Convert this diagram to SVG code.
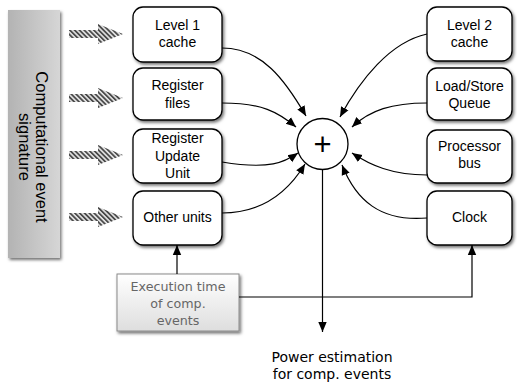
<svg xmlns="http://www.w3.org/2000/svg" width="517" height="384" viewBox="0 0 517 384">
<defs>
<style>
.box{fill:#fff;stroke:#000;stroke-width:1.3;filter:url(#sh)}
.bt{font-family:"Liberation Sans",Arial,sans-serif;font-size:14px;fill:#000;text-anchor:middle}
.con{fill:none;stroke:#000;stroke-width:1.2}
.hat{fill:url(#stripes)}
.et{font-family:"DejaVu Sans",Verdana,sans-serif;font-size:12.7px;text-anchor:middle}
</style>
<filter id="sh" x="-20%" y="-20%" width="150%" height="150%">
<feDropShadow dx="1.5" dy="2" stdDeviation="1.8" flood-color="#000" flood-opacity="0.55"/>
</filter>
<marker id="ah" viewBox="0 0 10 10" refX="10" refY="5" markerWidth="10" markerHeight="10" markerUnits="userSpaceOnUse" orient="auto">
<path d="M0,0.8 L10,5 L0,9.2 z" fill="#000"/>
</marker>
<linearGradient id="bar" x1="0" y1="0" x2="1" y2="0">
<stop offset="0" stop-color="#b3b3b3"/>
<stop offset="1" stop-color="#d6d6d6"/>
</linearGradient>
<linearGradient id="eg" x1="0" y1="0" x2="0" y2="1">
<stop offset="0" stop-color="#ffffff"/>
<stop offset="1" stop-color="#dedede"/>
</linearGradient>
<pattern id="stripes" patternUnits="userSpaceOnUse" width="3.4" height="3.4" patternTransform="rotate(-45)">
<rect width="3.4" height="3.4" fill="#e6e6e6"/>
<rect width="1.8" height="3.4" fill="#4a4a4a"/>
</pattern>
</defs>

<g id="signature">
<rect x="8" y="10" width="52" height="248" fill="url(#bar)" filter="url(#sh)"/>
<g font-family="Liberation Sans,Arial,sans-serif" font-size="16.5" text-anchor="middle" fill="#000">
<text transform="translate(36,147) rotate(90)">Computational event</text>
<text transform="translate(19,147) rotate(90)">signature</text>
</g>
</g>

<g id="hatched-arrows">
<path class="hat" d="M69,30 H98 V24 L123,34 L98,44 V38 H69 z"/>
<path class="hat" d="M69,94 H98 V88 L123,98 L98,108 V102 H69 z"/>
<path class="hat" d="M69,151 H98 V145 L123,155 L98,165 V159 H69 z"/>
<path class="hat" d="M69,213 H98 V207 L123,217 L98,227 V221 H69 z"/>
</g>

<g id="level1">
<rect class="box" x="133" y="7" width="89" height="55" rx="10"/>
<text class="bt" x="177.5" y="30">Level 1</text>
<text class="bt" x="177.5" y="47">cache</text>
</g>
<g id="regfiles">
<rect class="box" x="133" y="68" width="89" height="52" rx="10"/>
<text class="bt" x="177.5" y="90">Register</text>
<text class="bt" x="177.5" y="108">files</text>
</g>
<g id="ruu">
<rect class="box" x="133" y="129" width="89" height="54" rx="10"/>
<text class="bt" x="177.5" y="143">Register</text>
<text class="bt" x="177.5" y="161">Update</text>
<text class="bt" x="177.5" y="178">Unit</text>
</g>
<g id="other">
<rect class="box" x="133" y="191" width="89" height="54" rx="10"/>
<text class="bt" x="177.5" y="222">Other units</text>
</g>

<g id="level2">
<rect class="box" x="427" y="7" width="85" height="54" rx="10"/>
<text class="bt" x="469.5" y="30">Level 2</text>
<text class="bt" x="469.5" y="47">cache</text>
</g>
<g id="lsq">
<rect class="box" x="427" y="68" width="85" height="52" rx="10"/>
<text class="bt" x="469.5" y="91">Load/Store</text>
<text class="bt" x="469.5" y="108">Queue</text>
</g>
<g id="procbus">
<rect class="box" x="427" y="130" width="85" height="53" rx="10"/>
<text class="bt" x="469.5" y="151">Processor</text>
<text class="bt" x="469.5" y="168">bus</text>
</g>
<g id="clock">
<rect class="box" x="427" y="191" width="85" height="54" rx="10"/>
<text class="bt" x="469.5" y="222">Clock</text>
</g>

<g id="sum">
<circle cx="322.5" cy="144" r="25.5" fill="#fff" stroke="#000" stroke-width="1.3"/>
<text x="322.5" y="155" font-family="Liberation Sans,Arial,sans-serif" font-size="31" text-anchor="middle">+</text>
</g>

<g id="exec">
<rect x="117" y="274" width="122" height="57" fill="url(#eg)" stroke="#8a8a8a" stroke-width="1" filter="url(#sh)"/>
<g class="et" fill="#666">
<text x="178" y="291">Execution time</text>
<text x="178" y="308">of comp.</text>
<text x="178" y="325">events</text>
</g>
</g>

<g id="output-label" class="et" fill="#000">
<text x="332" y="362" font-size="14">Power estimation</text>
<text x="332" y="379" font-size="14">for comp. events</text>
</g>

<g id="connectors">
<path class="con" marker-end="url(#ah)" d="M222,48 C262,48 285,80 306,116"/>
<path class="con" marker-end="url(#ah)" d="M222,103 C262,103 278,112 296,127"/>
<path class="con" marker-end="url(#ah)" d="M222,162 C270,170 285,162 298,153"/>
<path class="con" marker-end="url(#ah)" d="M222,213 C262,213 288,192 305,164"/>
<path class="con" marker-end="url(#ah)" d="M427,34 C390,42 360,80 340,117"/>
<path class="con" marker-end="url(#ah)" d="M427,103 C392,103 370,110 352,127"/>
<path class="con" marker-end="url(#ah)" d="M427,175 C392,175 370,165 352,153"/>
<path class="con" marker-end="url(#ah)" d="M427,218 C380,222 356,200 342,165"/>
<path class="con" marker-end="url(#ah)" d="M322.5,169.5 V332"/>
<path class="con" marker-end="url(#ah)" d="M177,274 V245"/>
<path class="con" marker-end="url(#ah)" d="M239,297 H472 V245"/>
</g>
</svg>
